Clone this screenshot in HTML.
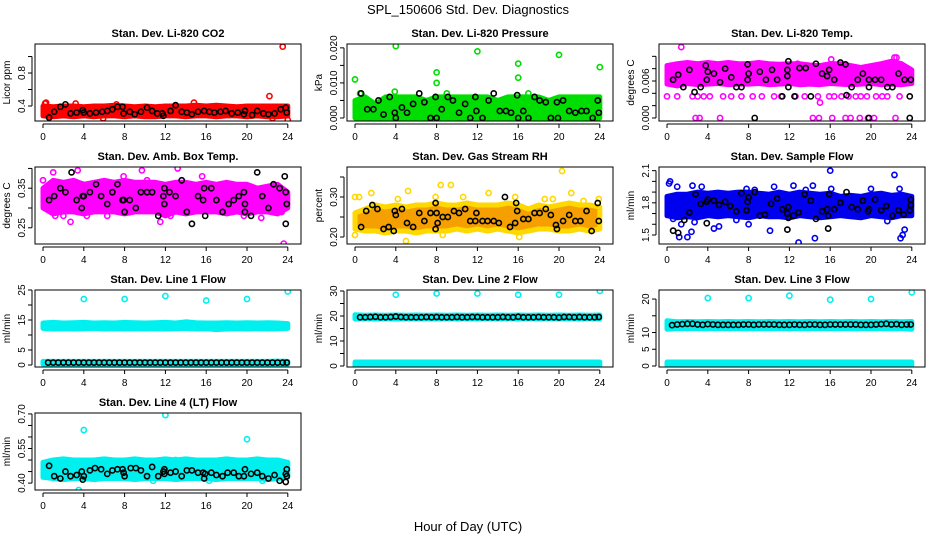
<!DOCTYPE html>
<html><head><meta charset="utf-8"><style>
html,body{margin:0;padding:0;background:#fff}
svg{display:block;font-family:"Liberation Sans",sans-serif}
</style></head><body>
<svg id="c" width="936" height="540" viewBox="0 0 936 540">
<text x="468" y="14" font-size="13" text-anchor="middle">SPL_150606  Std. Dev. Diagnostics</text>
<text x="468" y="531" font-size="13" text-anchor="middle">Hour of Day (UTC)</text>
</svg>
<script>
const xTicks=[0,4,8,12,16,20,24];
const bandHours=[0,1,2,3,4,5,6,7,8,9,10,11,12,13,14,15,16,17,18,19,20,21,22,23,24];
const lineHours=[0.5,1,1.5,2,2.5,3,3.5,4,4.5,5,5.5,6,6.5,7,7.5,8,8.5,9,9.5,10,10.5,11,11.5,12,12.5,13,13.5,14,14.5,15,15.5,16,16.5,17,17.5,18,18.5,19,19.5,20,20.5,21,21.5,22,22.5,23,23.5,23.9];

// Panel 1 CO2
const co2Lo=[0.28,0.27,0.28,0.27,0.28,0.27,0.28,0.28,0.27,0.28,0.27,0.27,0.28,0.28,0.27,0.28,0.28,0.27,0.28,0.28,0.27,0.28,0.27,0.27,0.28];
const co2Hi=[0.40,0.39,0.40,0.40,0.39,0.40,0.40,0.41,0.40,0.39,0.40,0.39,0.40,0.40,0.40,0.41,0.40,0.41,0.40,0.39,0.40,0.40,0.40,0.40,0.40];
const co2ExH=[0.2,0.3,22.2,23.5,24,22.5,5.9,14.8,3.2,7.2];
const co2ExV=[0.43,0.44,0.52,1.12,0.23,0.25,0.25,0.44,0.43,0.42];
const co2BkH=[0.6,1.1,1.7,2.2,2.7,3.3,3.9,4.0,4.6,5.2,5.8,6.3,6.8,7.3,7.8,7.9,8.5,9.0,9.6,10.2,10.7,11.2,11.7,11.8,12.5,13.0,13.6,14.1,14.6,15.2,15.8,16.3,16.8,17.4,17.9,18.5,19.1,19.7,19.8,20.5,21.0,21.6,22.1,22.7,23.3,23.8,23.9];
const co2BkV=[0.26,0.33,0.39,0.42,0.31,0.32,0.35,0.32,0.31,0.32,0.33,0.34,0.36,0.39,0.39,0.31,0.33,0.30,0.33,0.38,0.34,0.31,0.31,0.28,0.34,0.41,0.33,0.32,0.30,0.33,0.34,0.33,0.32,0.33,0.34,0.31,0.32,0.30,0.34,0.29,0.34,0.31,0.30,0.31,0.36,0.38,0.32];

// Panel 2 Pressure
const prLo=[0,0,0,0,0,0,0,0,0,0,0,0,0,0,0,0,0,0,0,0,0,0,0,0,0];
const prHi=[0.005,0.006,0.004,0.006,0.006,0.006,0.006,0.005,0.006,0.006,0.006,0.006,0.006,0.006,0.005,0.006,0.006,0.006,0.006,0.005,0.006,0.006,0.006,0.006,0.006];
const prExH=[0,4,8,8,12,16,16,20,24,3.9,0.5,17,9];
const prExV=[0.011,0.0205,0.013,0.010,0.019,0.0155,0.0115,0.018,0.0145,0.0075,0.007,0.007,0.007];
const prBkH=[0.6,1.2,1.8,2.3,2.8,3.4,3.9,4.0,4.6,5.1,5.7,6.3,6.8,7.4,7.9,8.0,8.5,9.1,9.6,10.2,10.8,11.3,11.8,11.9,12.5,13.1,13.6,14.2,14.8,15.3,15.9,16.0,16.5,17.0,17.6,18.1,18.7,19.2,19.8,19.9,20.4,21.0,21.6,22.2,22.7,23.3,23.8,23.9];
const prBkV=[0.007,0.0025,0.0025,0.005,0.001,0.006,0.0015,0.0,0.003,0.0015,0.004,0.007,0.0045,0.0,0.006,0.0,0.0025,0.006,0.005,0.0015,0.004,0.0,0.006,0.002,0.0,0.005,0.007,0.002,0.002,0.0015,0.0065,0.0,0.002,0.0,0.006,0.005,0.0045,0.0,0.0045,0.0,0.005,0.002,0.0015,0.002,0.002,0.0,0.005,0.0015];

// Panel 3 Temp
const tpLo=[0.0055,0.0052,0.0056,0.0054,0.0055,0.0056,0.0054,0.0055,0.0055,0.0056,0.0054,0.0055,0.0056,0.0054,0.0055,0.0054,0.0056,0.0055,0.0054,0.0055,0.0056,0.0054,0.0055,0.0054,0.0056];
const tpHi=[0.0085,0.0088,0.009,0.0088,0.009,0.0088,0.009,0.0088,0.0088,0.009,0.0088,0.0087,0.0088,0.0088,0.0086,0.0085,0.0088,0.0088,0.0085,0.0082,0.0085,0.0088,0.0092,0.0088,0.0078];
const tpExH=[0,1,2.5,3,3.6,4.2,5.5,6.3,7.3,8.4,9.3,10.5,11.2,12.6,13.5,14.8,15.9,16.4,17.1,17.8,18.5,19.0,19.6,20.5,21.1,21.6,22.8,2.8,3.2,5.2,14.3,14.9,16.2,17.5,18.0,18.9,19.7,20.3,22.4,1.4,15,22.3,22.5,12.8,16.1];
const tpExV=[0.0035,0.0035,0.0035,0.0035,0.0035,0.0035,0.0035,0.0035,0.0035,0.0035,0.0035,0.0035,0.0035,0.0035,0.0035,0.0035,0.0035,0.0035,0.0035,0.0035,0.0035,0.0035,0.0035,0.0035,0.0035,0.0035,0.0035,0,0,0,0,0,0,0,0,0,0,0,0,0.0115,0.0025,0.0098,0.0098,0.0088,0.0095];
const tpBkH=[0.6,1.1,1.6,2.2,2.7,3.3,3.8,3.9,4.0,4.6,5.2,5.7,6.3,6.8,7.3,7.9,7.9,8.0,8.6,9.1,9.7,10.3,10.8,11.3,11.8,11.9,11.8,11.9,12.5,13.0,13.6,14.1,14.6,15.2,15.7,15.9,16.4,17.0,17.5,17.6,18.1,18.7,19.2,19.8,19.8,19.8,20.4,21.0,21.6,22.1,22.7,23.3,23.8,23.8,23.9];
const tpBkV=[0.0062,0.007,0.005,0.0078,0.0042,0.005,0.0085,0.0062,0.0075,0.0072,0.0058,0.008,0.0066,0.005,0.005,0.0087,0.0062,0.0072,0.0,0.0075,0.0062,0.0078,0.0062,0.0035,0.0078,0.0092,0.0068,0.005,0.0035,0.0081,0.0081,0.0035,0.0088,0.0072,0.0068,0.0078,0.0062,0.009,0.0087,0.0037,0.005,0.0062,0.0072,0.005,0.0062,0.0,0.0062,0.0062,0.005,0.005,0.0072,0.0062,0.0035,0.0,0.0062];

// Panel 4 Amb box temp
const abLo=[0.30,0.285,0.29,0.29,0.285,0.29,0.29,0.29,0.285,0.29,0.29,0.29,0.28,0.29,0.285,0.29,0.29,0.29,0.285,0.29,0.285,0.29,0.29,0.285,0.30];
const abHi=[0.35,0.37,0.365,0.37,0.36,0.365,0.37,0.365,0.37,0.365,0.365,0.365,0.36,0.365,0.365,0.36,0.365,0.36,0.365,0.36,0.36,0.35,0.355,0.36,0.34];
const abExH=[0,0.3,1.0,1.2,2.0,2.7,3.4,4.3,6.3,7.9,8.5,9.7,10.2,11.5,12.5,13.2,15.6,19.7,21.4,23.6,23.4,3.8];
const abExV=[0.37,0.30,0.39,0.28,0.28,0.265,0.395,0.28,0.28,0.38,0.29,0.395,0.37,0.265,0.28,0.40,0.38,0.28,0.275,0.21,0.29,0.36];
const abBkH=[0.6,1.1,1.7,2.2,2.8,3.3,3.8,3.9,4.0,4.6,5.2,5.7,6.3,6.8,7.3,7.8,7.9,8.0,8.5,9.1,9.6,10.2,10.7,11.3,11.8,11.9,11.9,12.4,13.0,13.6,14.1,14.6,15.2,15.7,15.8,15.9,16.5,17.0,17.6,18.2,18.7,19.2,19.7,19.8,19.8,20.4,21.0,21.5,22.1,22.6,23.2,23.7,23.8,23.9,23.8];
const abBkV=[0.32,0.33,0.35,0.34,0.39,0.32,0.30,0.33,0.33,0.34,0.36,0.33,0.31,0.34,0.36,0.32,0.32,0.29,0.32,0.30,0.34,0.34,0.34,0.28,0.33,0.35,0.31,0.34,0.33,0.37,0.29,0.26,0.33,0.32,0.35,0.28,0.35,0.32,0.29,0.31,0.32,0.33,0.34,0.29,0.31,0.28,0.39,0.33,0.30,0.36,0.35,0.38,0.34,0.31,0.26];

// Panel 5 Gas stream RH
const rhLo=[0.22,0.215,0.215,0.21,0.215,0.215,0.21,0.215,0.215,0.215,0.22,0.215,0.22,0.215,0.22,0.215,0.21,0.215,0.22,0.22,0.215,0.215,0.22,0.215,0.22];
const rhHi=[0.26,0.27,0.28,0.275,0.28,0.275,0.28,0.28,0.285,0.28,0.28,0.285,0.28,0.28,0.28,0.285,0.28,0.27,0.28,0.275,0.28,0.285,0.28,0.28,0.275];
const rhExH=[0,0.4,0,1.6,4.2,5.2,5.0,7.9,8.4,8.6,9.4,10.6,13.1,15.7,16.1,18.6,19.4,20.3,21.2,22.4,23.9];
const rhExV=[0.30,0.30,0.205,0.31,0.295,0.315,0.19,0.30,0.33,0.205,0.33,0.30,0.31,0.30,0.20,0.295,0.295,0.365,0.31,0.29,0.295];
const rhBkH=[0.6,1.1,1.7,2.2,2.8,3.3,3.8,3.9,4.0,4.6,5.1,5.7,6.3,6.8,7.4,7.9,7.9,8.0,8.1,8.6,9.1,9.7,10.2,10.8,11.3,11.8,11.9,12.5,13.0,13.6,14.1,14.7,15.2,15.7,15.8,15.9,16.5,17.0,17.6,18.1,18.7,19.2,19.7,19.8,20.4,21.0,21.6,22.1,22.7,23.2,23.8,23.9];
const rhBkV=[0.225,0.265,0.28,0.27,0.22,0.225,0.215,0.265,0.255,0.27,0.235,0.225,0.26,0.24,0.26,0.285,0.22,0.26,0.235,0.25,0.25,0.265,0.26,0.27,0.24,0.24,0.26,0.24,0.24,0.24,0.235,0.30,0.225,0.235,0.285,0.265,0.245,0.245,0.26,0.26,0.27,0.255,0.23,0.22,0.24,0.255,0.24,0.24,0.265,0.215,0.285,0.24];

// Panel 6 Sample flow
const sfLo=[1.68,1.66,1.67,1.66,1.68,1.67,1.68,1.67,1.66,1.68,1.67,1.67,1.66,1.68,1.67,1.66,1.67,1.68,1.67,1.66,1.68,1.67,1.66,1.68,1.68];
const sfHi=[1.86,1.88,1.88,1.9,1.89,1.9,1.89,1.9,1.9,1.89,1.88,1.9,1.88,1.9,1.89,1.88,1.89,1.86,1.87,1.86,1.88,1.89,1.87,1.88,1.86];
const sfExH=[0.2,0.3,0.6,1.0,1.2,1.4,2.0,2.4,2.5,2.7,3.4,4.6,5.1,6.8,7.8,8.0,8.6,10.1,10.5,12.4,12.9,13.6,14.3,14.5,15.2,16.0,16.1,20.0,22.3,22.8,22.9,23.1,23.3,21.6];
const sfExV=[1.98,2.0,1.65,1.95,1.48,1.60,1.48,1.53,1.96,1.62,1.95,1.56,1.58,1.64,1.93,1.60,1.92,1.54,1.95,1.96,1.43,1.92,1.96,1.47,1.85,2.1,1.93,1.93,2.06,1.93,1.47,1.50,1.55,1.63];
const sfBkH=[0.6,1.1,1.7,2.2,2.8,3.3,3.9,3.9,4.0,4.6,5.1,5.7,6.2,6.8,7.3,7.8,7.9,8.0,8.6,9.1,9.6,10.2,10.8,11.3,11.8,11.9,11.9,11.8,12.4,12.9,13.5,14.1,14.6,15.2,15.7,15.8,15.8,15.9,16.4,17.0,17.6,18.1,18.7,19.2,19.7,19.8,20.4,21.0,21.5,22.1,22.7,23.2,23.8,23.9,23.9];
const sfBkV=[1.54,1.52,1.64,1.71,1.88,1.79,1.61,1.81,1.83,1.82,1.78,1.81,1.77,1.72,1.89,1.73,1.81,1.85,1.90,1.68,1.69,1.79,1.84,1.74,1.70,1.76,1.66,1.55,1.68,1.71,1.88,1.82,1.65,1.72,1.74,1.68,1.56,1.88,1.74,1.80,1.90,1.76,1.74,1.82,1.72,1.74,1.83,1.73,1.77,1.68,1.73,1.69,1.73,1.78,1.83];

// Panel 7 Line 1
const l1Lo=[12.2,12.0,12.1,12.0,12.1,12.2,12.0,12.1,12.0,12.1,12.0,12.1,12.0,12.1,12.2,12.0,12.1,11.8,12.0,12.1,12.0,12.1,12.0,12.1,12.2];
const l1Hi=[14.0,14.2,14.0,14.1,14.2,14.0,14.1,14.0,14.2,14.1,14.0,14.1,14.2,14.0,14.4,14.1,14.0,14.0,14.1,14.0,14.1,14.0,14.1,14.0,13.8];
const l1Lo2=[0.3,0.3,0.3,0.3,0.3,0.3,0.3,0.3,0.3,0.3,0.3,0.3,0.3,0.3,0.3,0.3,0.3,0.3,0.3,0.3,0.3,0.3,0.3,0.3,0.3];
const l1Hi2=[1.2,1.2,1.2,1.2,1.2,1.2,1.2,1.2,1.2,1.2,1.2,1.2,1.2,1.2,1.2,1.2,1.2,1.2,1.2,1.2,1.2,1.2,1.2,1.3,1.2];
const l1ExH=[4,8,12,16,20,24];
const l1ExV=[22,22,23,21.5,22,24.5];
const l1BkV=[0.8,0.8,0.8,0.8,0.8,0.8,0.8,0.8,0.8,0.8,0.8,0.8,0.8,0.8,0.8,0.8,0.8,0.8,0.8,0.8,0.8,0.8,0.8,0.8,0.8,0.8,0.8,0.8,0.8,0.8,0.8,0.8,0.8,0.8,0.8,0.8,0.8,0.8,0.8,0.8,0.8,0.8,0.8,0.8,0.8,0.8,0.8,0.8];

// Panel 8 Line 2
const l2Lo=[18.8,18.9,18.8,18.9,18.8,18.9,18.8,18.9,18.8,18.9,18.8,18.9,18.8,18.9,18.8,18.9,18.8,18.9,18.8,18.9,18.8,18.9,18.8,18.9,18.8];
const l2Hi=[20.5,20.3,20.4,20.3,20.4,20.3,20.4,20.3,20.4,20.3,20.4,20.3,20.4,20.3,20.4,20.3,20.4,20.3,20.4,20.3,20.4,20.3,20.4,20.3,20.4];
const l2Lo2=[0,0,0,0,0,0,0,0,0,0,0,0,0,0,0,0,0,0,0,0,0,0,0,0,0];
const l2Hi2=[1.6,1.6,1.6,1.6,1.6,1.6,1.6,1.6,1.6,1.6,1.6,1.6,1.6,1.6,1.6,1.6,1.6,1.6,1.6,1.6,1.6,1.6,1.6,1.6,1.6];
const l2ExH=[4,8,12,16,20,24];
const l2ExV=[28.5,29,29,28.5,28.5,30];
const l2BkV=[19.5,19.5,19.6,19.7,19.5,19.5,19.6,19.8,19.6,19.5,19.5,19.5,19.5,19.6,19.5,19.6,19.5,19.5,19.5,19.6,19.5,19.5,19.6,19.6,19.5,19.5,19.5,19.5,19.6,19.5,19.5,19.7,19.5,19.5,19.5,19.6,19.5,19.5,19.5,19.4,19.6,19.6,19.5,19.6,19.5,19.5,19.5,19.6];

// Panel 9 Line 3
const l3Lo=[11.0,11.2,11.1,11.2,11.1,11.2,11.1,11.2,11.1,11.2,11.1,11.2,11.1,11.2,11.1,11.2,11.1,11.2,11.1,11.2,11.1,11.2,11.1,11.2,11.0];
const l3Hi=[13.5,13.2,13.3,13.2,13.3,13.2,13.3,13.2,13.3,13.2,13.3,13.2,13.3,13.2,13.3,13.2,13.3,13.2,13.3,13.2,13.3,13.2,13.3,13.2,13.3];
const l3Lo2=[0.2,0.2,0.2,0.2,0.2,0.2,0.2,0.2,0.2,0.2,0.2,0.2,0.2,0.2,0.2,0.2,0.2,0.2,0.2,0.2,0.2,0.2,0.2,0.2,0.2];
const l3Hi2=[1.2,1.2,1.2,1.2,1.2,1.2,1.2,1.2,1.2,1.2,1.2,1.2,1.2,1.2,1.2,1.2,1.2,1.2,1.2,1.2,1.2,1.2,1.2,1.2,1.2];
const l3ExH=[4,8,12,16,20,24];
const l3ExV=[20.3,20.3,21,19.8,20,22];
const l3BkV=[12.2,12.4,12.5,12.6,12.6,12.4,12.3,12.5,12.4,12.3,12.3,12.3,12.3,12.3,12.4,12.4,12.3,12.4,12.4,12.4,12.4,12.3,12.3,12.3,12.4,12.3,12.3,12.4,12.4,12.3,12.3,12.4,12.4,12.4,12.4,12.4,12.4,12.3,12.3,12.3,12.4,12.5,12.6,12.4,12.5,12.3,12.4,12.4];

// Panel 10 Line 4
const l4Lo=[0.425,0.42,0.415,0.42,0.42,0.415,0.42,0.42,0.42,0.415,0.42,0.42,0.42,0.415,0.42,0.42,0.42,0.415,0.42,0.42,0.42,0.42,0.415,0.42,0.425];
const l4Hi=[0.49,0.50,0.505,0.50,0.50,0.50,0.505,0.50,0.50,0.505,0.50,0.50,0.505,0.50,0.505,0.50,0.50,0.50,0.505,0.50,0.50,0.505,0.50,0.50,0.49];
const l4ExH=[4,12,20,3.5,2.7,13,18.5,10.5,10.8,16.3,21.5,1.8,23.2];
const l4ExV=[0.63,0.695,0.59,0.37,0.485,0.50,0.485,0.49,0.41,0.41,0.41,0.48,0.48];
const l4BkH=[0.6,1.1,1.7,2.2,2.7,3.3,3.8,3.9,4.0,4.6,5.1,5.7,6.3,6.8,7.3,7.8,7.9,8.0,8.6,9.1,9.6,10.2,10.7,11.3,11.8,11.9,11.9,12.5,13.0,13.6,14.1,14.6,15.2,15.7,15.8,15.9,16.5,17.0,17.6,18.1,18.7,19.2,19.7,19.8,20.4,21.0,21.5,22.1,22.7,23.2,23.8,23.8,23.9,23.9];
const l4BkV=[0.475,0.43,0.42,0.45,0.43,0.435,0.45,0.415,0.43,0.455,0.465,0.46,0.44,0.455,0.46,0.46,0.445,0.43,0.465,0.465,0.455,0.43,0.47,0.43,0.45,0.46,0.44,0.445,0.45,0.43,0.455,0.455,0.445,0.445,0.42,0.44,0.445,0.435,0.43,0.445,0.445,0.43,0.43,0.46,0.44,0.445,0.43,0.42,0.435,0.41,0.405,0.44,0.43,0.46];

const svg=document.getElementById('c');
const NS='http://www.w3.org/2000/svg';
function mk(tag,attrs,parent){const e=document.createElementNS(NS,tag);for(const k in attrs)e.setAttribute(k,attrs[k]);(parent||svg).appendChild(e);return e;}

const panels=[
 {name:'co2',title:'Stan. Dev. Li-820 CO2',ylab:'Licor ppm',col:0,row:0,y0:0.218,y1:1.152,ticks:[0.4,0.6,0.8,1.0],labels:['0.4','','0.8',''],color:'#ff0000',band:[[co2Lo,co2Hi]],exH:co2ExH,exV:co2ExV,bkH:co2BkH,bkV:co2BkV},
 {name:'pressure',title:'Stan. Dev. Li-820 Pressure',ylab:'kPa',col:1,row:0,y0:-0.00086,y1:0.0211,ticks:[0,0.005,0.01,0.015,0.02],labels:['0.000','','0.010','','0.020'],color:'#00dd00',band:[[prLo,prHi]],exH:prExH,exV:prExV,bkH:prBkH,bkV:prBkV},
 {name:'li820-temp',title:'Stan. Dev. Li-820 Temp.',ylab:'degrees C',col:2,row:0,y0:-0.00049,y1:0.012,ticks:[0,0.002,0.004,0.006,0.008,0.01],labels:['0.000','','','0.006','',''],color:'#ff00ff',band:[[tpLo,tpHi]],exH:tpExH,exV:tpExV,bkH:tpBkH,bkV:tpBkV},
 {name:'amb-box-temp',title:'Stan. Dev. Amb. Box Temp.',ylab:'degrees C',col:0,row:1,y0:0.209,y1:0.4036,ticks:[0.25,0.3,0.35,0.4],labels:['0.25','','0.35',''],color:'#ff00ff',band:[[abLo,abHi]],exH:abExH,exV:abExV,bkH:abBkH,bkV:abBkV},
 {name:'gas-stream-rh',title:'Stan. Dev. Gas Stream RH',ylab:'percent',col:1,row:1,y0:0.1825,y1:0.375,ticks:[0.2,0.25,0.3,0.35],labels:['0.20','','0.30',''],color:'#f5a000',ring:'#ffd800',band:[[rhLo,rhHi]],exH:rhExH,exV:rhExV,bkH:rhBkH,bkV:rhBkV},
 {name:'sample-flow',title:'Stan. Dev. Sample Flow',ylab:'ml/min',col:2,row:1,y0:1.416,y1:2.134,ticks:[1.5,1.6,1.7,1.8,1.9,2.0,2.1],labels:['1.5','','','1.8','','','2.1'],color:'#0000ee',band:[[sfLo,sfHi]],exH:sfExH,exV:sfExV,bkH:sfBkH,bkV:sfBkV},
 {name:'line1-flow',title:'Stan. Dev. Line 1 Flow',ylab:'ml/min',col:0,row:2,y0:-0.67,y1:25,ticks:[0,5,10,15,20,25],labels:['0','5','','15','','25'],color:'#00f0f0',band:[[l1Lo,l1Hi],[l1Lo2,l1Hi2]],exH:l1ExH,exV:l1ExV,bkH:lineHours,bkV:l1BkV},
 {name:'line2-flow',title:'Stan. Dev. Line 2 Flow',ylab:'ml/min',col:1,row:2,y0:-0.4,y1:30.4,ticks:[0,5,10,15,20,25,30],labels:['0','','10','','20','','30'],color:'#00f0f0',band:[[l2Lo,l2Hi],[l2Lo2,l2Hi2]],exH:l2ExH,exV:l2ExV,bkH:lineHours,bkV:l2BkV},
 {name:'line3-flow',title:'Stan. Dev. Line 3 Flow',ylab:'ml/min',col:2,row:2,y0:-0.3,y1:22.7,ticks:[0,5,10,15,20],labels:['0','5','10','','20'],color:'#00f0f0',band:[[l3Lo,l3Hi],[l3Lo2,l3Hi2]],exH:l3ExH,exV:l3ExV,bkH:lineHours,bkV:l3BkV},
 {name:'line4-flow',title:'Stan. Dev. Line 4 (LT) Flow',ylab:'ml/min',col:0,row:3,y0:0.37,y1:0.704,ticks:[0.4,0.45,0.5,0.55,0.6,0.65,0.7],labels:['0.40','','','0.55','','','0.70'],color:'#00f0f0',band:[[l4Lo,l4Hi]],exH:l4ExH,exV:l4ExV,bkH:l4BkH,bkV:l4BkV}
];

panels.forEach(p=>{
 const L=p.col*312+35,R=p.col*312+301,T=44+p.row*123,B=T+77;
 const xs=h=>p.col*312+43+h*10.2;
 const ys=v=>B-(v-p.y0)/(p.y1-p.y0)*(B-T);
 const g=mk('g',{});
 
 
 const cp=mk('clipPath',{id:'cp'+p.name},g);mk('rect',{x:L,y:T,width:R-L,height:B-T},cp);
 const data=mk('g',{'clip-path':'url(#cp'+p.name+')'},g);
 p.band.forEach((b,i)=>{
  let d='M';
  bandHours.forEach((h,j)=>{d+=xs(h).toFixed(1)+','+ys(b[1][j]).toFixed(1)+' L';});
  for(let j=bandHours.length-1;j>=0;j--){d+=xs(bandHours[j]).toFixed(1)+','+ys(b[0][j]).toFixed(1)+(j?' L':' Z');}
  const e=mk('path',{d:d,fill:p.color,stroke:p.ring||p.color,'stroke-width':5,'stroke-linejoin':'round'},data);
  
  
 });
 p.exH.forEach((h,i)=>{
  const e=mk('circle',{cx:xs(h),cy:ys(p.exV[i]),r:2.6,fill:'none',stroke:p.ring||p.color,'stroke-width':1.6},data);
  
  
 });
 p.bkH.forEach((h,i)=>{
  const e=mk('circle',{cx:xs(h),cy:ys(p.bkV[i]),r:2.6,fill:'none',stroke:'#000','stroke-width':1.6},data);
  
  
 });
 const box=mk('rect',{x:L,y:T,width:R-L,height:B-T,fill:'none',stroke:'#000','stroke-width':1},g);
 
 
 const t=mk('text',{x:(L+R)/2,y:T-7,'font-size':11,'font-weight':'bold','text-anchor':'middle'},g);
 t.textContent=p.title;
 
 
 // x axis
 mk('line',{x1:xs(0),x2:xs(24),y1:B+3,y2:B+3,stroke:'#000'},g);
 xTicks.forEach(v=>{
  mk('line',{x1:xs(v),x2:xs(v),y1:B+3,y2:B+7,stroke:'#000'},g);
  const tx=mk('text',{x:xs(v),y:B+19,'font-size':10,'text-anchor':'middle'},g);
  tx.textContent=v;
  
  
 });
 // y axis
 mk('line',{x1:L-3,x2:L-3,y1:ys(p.ticks[0]),y2:ys(p.ticks[p.ticks.length-1]),stroke:'#000'},g);
 p.ticks.forEach((v,i)=>{
  mk('line',{x1:L-7,x2:L-3,y1:ys(v),y2:ys(v),stroke:'#000'},g);
  if(p.labels[i]){
   const ty=mk('text',{x:L-10,y:ys(v),'font-size':10,'text-anchor':'middle',transform:'rotate(-90 '+(L-10)+' '+ys(v)+')'},g);
   ty.textContent=p.labels[i];
   
   
  }
 });
 const yl=mk('text',{x:L-25,y:(T+B)/2,'font-size':10,'text-anchor':'middle',transform:'rotate(-90 '+(L-25)+' '+((T+B)/2)+')'},g);
 yl.textContent=p.ylab;
 
 
});
</script>
</body></html>
